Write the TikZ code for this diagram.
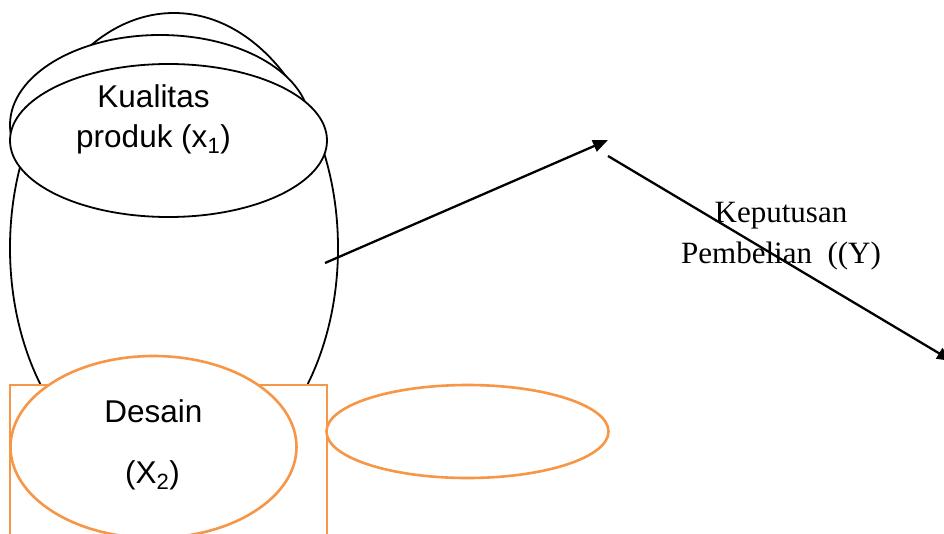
\documentclass[tikz,border=0pt]{standalone}
\usepackage{fontspec}
\setmainfont{Liberation Serif}
\newfontfamily\arialfont{Liberation Sans}
\usetikzlibrary{shapes.geometric,arrows.meta}
\definecolor{accorange}{RGB}{247,150,70}
\tikzset{
  blackoval/.style={ellipse,draw=black,fill=white,line width=1.8pt,inner sep=0pt},
  orangeoval/.style={ellipse,draw=accorange,fill=white,line width=2.6pt,inner sep=0pt},
  sanslabel/.style={anchor=base,inner sep=0pt,font=\arialfont\fontsize{31.5}{40}\selectfont},
  seriflabel/.style={anchor=base,inner sep=0pt,font=\fontsize{31}{40}\selectfont},
  arrowline/.style={line width=2.3pt,-{Triangle[length=15pt,width=12pt]}}
}
\begin{document}
\begin{tikzpicture}[x=1pt,y=-1pt]
\useasboundingbox (0,0) rectangle (944,533);
% big back ellipse
\node[blackoval,minimum width=328pt,minimum height=470pt] (big) at (174,248) {};
% middle ellipse
\node[blackoval,minimum width=300pt,minimum height=180pt] (mid) at (160,125) {};
% Kualitas ellipse
\node[blackoval,minimum width=317pt,minimum height=153pt] (kual) at (168.5,140.5) {};
% orange rectangle
\draw[accorange,fill=white,line width=2.4pt] (10,385) rectangle (327,545);
% Desain ellipse
\node[orangeoval,minimum width=286pt,minimum height=182pt] (desain) at (153.5,447) {};
% right orange ellipse
\node[orangeoval,minimum width=282pt,minimum height=93pt] (right) at (467.5,431.5) {};
% texts
\node[sanslabel] (t1) at (153.5,107) {Kualitas};
\node[sanslabel] (t2) at (153.5,147) {produk (x\textsubscript{1})};
\node[sanslabel] (t3) at (153.5,422) {Desain};
\node[sanslabel] (t4) at (152.5,483) {(X\textsubscript{2})};
\node[seriflabel] (t5) at (781,222) {Keputusan};
\node[seriflabel] (t6) at (781,263) {Pembelian\ \ ((Y)};
% arrows
\coordinate (a1s) at (325,263);
\coordinate (a1e) at (608,140);
\coordinate (a2s) at (608,156);
\coordinate (a2e) at (952,361);
\draw[arrowline] (a1s) -- (a1e);
\draw[arrowline] (a2s) -- (a2e);
\end{tikzpicture}
\end{document}
